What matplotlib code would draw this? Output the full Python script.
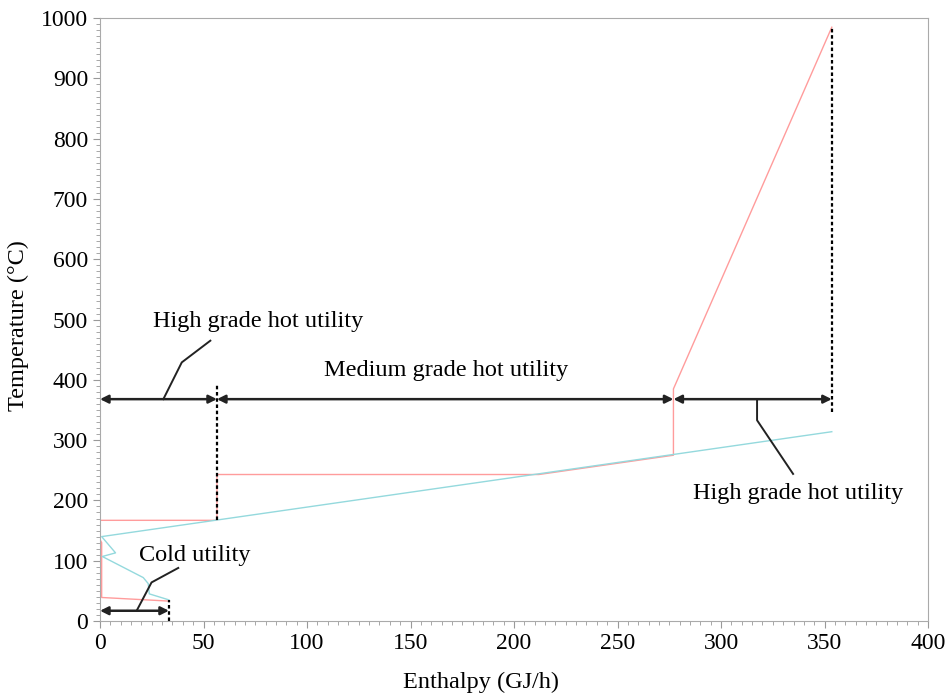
import matplotlib
matplotlib.use('Agg')
import matplotlib.pyplot as plt
from matplotlib.ticker import MultipleLocator

plt.rcParams['font.family'] = ['Liberation Serif', 'DejaVu Serif']

# hot composite curve (red) and cold composite curve (cyan)
hot_h = [353.5, 277, 277, 212, 56.5, 56.5, 0, 0, 0.8, 0.8, 33.3]
hot_t = [985, 385, 275, 243, 243, 167, 167, 135, 130, 39, 33]
cold_h = [353.5, 0.8, 7.5, 1.1, 20.9, 23.3, 23.8, 33.3]
cold_t = [314, 140, 113, 107, 72, 62, 45, 35]

# utility boundaries
q_hi_left = 56.5
q_mid_end = 277
q_hot_max = 353.5
q_cold = 33.3
arrow_t = 368
cold_arrow_t = 17

fig = plt.figure(figsize=(9.47, 6.99), dpi=100)
ax = fig.add_axes([0.1056, 0.1116, 0.8744, 0.8624])

ax.plot(hot_h, hot_t, color='#ff9c9c', lw=1.0)
ax.plot(cold_h, cold_t, color='#94d9dd', lw=1.0)

# dashed vertical markers
dash = (0, (1.6, 1.2))
ax.plot([q_hi_left, q_hi_left], [167, 391], color='black', ls=dash, lw=1.6)
ax.plot([q_hot_max, q_hot_max], [347, 985], color='black', ls=dash, lw=1.6)
ax.plot([q_cold, q_cold], [0, 35], color='black', ls=dash, lw=1.6)

arrow_kw = dict(arrowstyle='<|-|>', color='#222222', lw=1.8, mutation_scale=12,
                shrinkA=0, shrinkB=0)
for a, b in [(0, q_hi_left), (q_hi_left, q_mid_end), (q_mid_end, q_hot_max)]:
    ax.annotate('', xy=(a, arrow_t), xytext=(b, arrow_t), arrowprops=arrow_kw)
ax.annotate('', xy=(0, cold_arrow_t), xytext=(q_cold, cold_arrow_t), arrowprops=arrow_kw)

# leader lines
ax.plot([30.6, 39.5, 53.3], [368, 429, 465], color='#222222', lw=1.4)
ax.plot([317.4, 317.4, 334.8], [368, 333, 244], color='#222222', lw=1.4)
ax.plot([17.7, 24.9, 37.8], [17, 64, 88], color='#222222', lw=1.4)

fs = 17.5
ax.text(76.3, 496, 'High grade hot utility', fontsize=fs, ha='center', va='center')
ax.text(167, 416, 'Medium grade hot utility', fontsize=fs, ha='center', va='center')
ax.text(337, 212, 'High grade hot utility', fontsize=fs, ha='center', va='center')
ax.text(46, 109, 'Cold utility', fontsize=fs, ha='center', va='center')

ax.set_xlim(0, 400)
ax.set_ylim(0, 1000)
ax.xaxis.set_major_locator(MultipleLocator(50))
ax.xaxis.set_minor_locator(MultipleLocator(5))
ax.yaxis.set_major_locator(MultipleLocator(100))
ax.yaxis.set_minor_locator(MultipleLocator(10))
ax.tick_params(which='major', length=5, color='#999999', labelsize=17)
ax.tick_params(which='minor', length=3, color='#999999')
for s in ax.spines.values():
    s.set_color('#aaaaaa')

ax.set_xlabel('Enthalpy (GJ/h)', fontsize=17.5)
ax.xaxis.set_label_coords(0.46, -0.085)
ax.set_ylabel('Temperature (°C)', fontsize=17.5)
ax.yaxis.set_label_coords(-0.086, 0.49)

fig.savefig('out.png', dpi=100)
